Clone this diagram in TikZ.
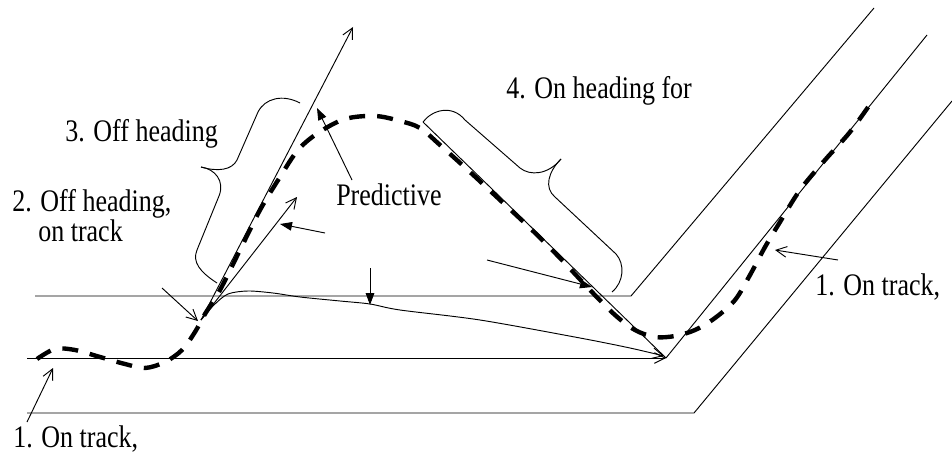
\documentclass[tikz,border=0pt]{standalone}
\usepackage{fontspec}
\setmainfont{Liberation Serif}
\newfontfamily\lblfont{Liberation Serif}[FakeStretch=0.83]
\usetikzlibrary{arrows.meta}
\begin{document}
\begin{tikzpicture}[x=0.75pt,y=0.75pt,
  trackline/.style={line width=0.7pt},
  lbl/.style={inner sep=0pt,anchor=base west,font=\lblfont\fontsize{23.5pt}{20.25pt}\selectfont},
  openarrow/.style={line width=0.7pt,-{Straight Barb[length=8pt,width=8pt,line width=0.7pt]}},
  fillarrow/.style={line width=0.7pt,-{Triangle[length=9pt,width=6.5pt]}},
  dashpath/.style={line width=3.3pt,dash pattern=on 12pt off 9pt},
  bracepath/.style={line width=0.7pt}]
\useasboundingbox (0,0) rectangle (952,-456);
% track lines
\coordinate (uL) at (35,-296); \coordinate (uV) at (631,-296); \coordinate (uE) at (874,-8);
\coordinate (mL) at (27,-358); \coordinate (mV) at (666,-358); \coordinate (mE) at (927,-35);
\coordinate (bL) at (27,-413); \coordinate (bV) at (694,-413); \coordinate (bE) at (952,-101);
\draw[trackline] (uL) -- (uV) -- (uE);
\draw[openarrow] (mL) -- (mV);
\draw[trackline] (mV) -- (mE);
\draw[trackline] (bL) -- (bV) -- (bE);
% heading arrows
\coordinate (O) at (201,-320);
\coordinate (LT) at (353,-27);
\coordinate (ST) at (297,-197);
\coordinate (H4) at (423,-122);
\draw[openarrow] (O) -- (LT);
\draw[openarrow] (O) -- (ST);
\draw[trackline] (H4) -- (mV);
% thin predicted curve
\draw[openarrow] plot[smooth,tension=0.5] coordinates {(201,-320) (214,-305) (228,-294) (248,-291) (273,-293) (300,-297) (340,-301) (370,-304) (400,-310) (480,-320) (580,-338) (630,-348) (664,-356)};
% dashed actual path
\draw[dashpath] plot[smooth,tension=0.55] coordinates {(37,-359) (55,-349) (75,-350) (100,-357) (125,-364) (145,-368) (165,-362) (182,-350) (195,-332) (205,-314) (220,-290) (240,-250) (260,-210) (280,-177) (298,-150) (318,-133) (345,-119) (375,-116) (400,-121) (420,-128) (440,-145) (470,-172) (500,-200) (530,-228) (560,-258) (590,-290) (615,-315) (635,-330) (655,-337) (675,-336) (695,-330) (715,-318) (735,-300) (750,-275) (765,-247) (780,-222) (800,-190) (825,-160) (850,-132) (873,-100)};
% brace 3
\draw[bracepath] (217,-283) .. controls (200,-272) and (192,-262) .. (197,-250) -- (219,-196) .. controls (225,-181) and (215,-169) .. (201,-167);
\draw[bracepath] (201,-167) .. controls (218,-172) and (232,-170) .. (237,-160) -- (258,-112) .. controls (265,-98) and (283,-94) .. (300,-103);
% brace 4
\draw[bracepath] (423,-122) .. controls (432,-110) and (452,-104) .. (465,-120) -- (520,-168) .. controls (530,-176) and (548,-175) .. (561,-159);
\draw[bracepath] (561,-159) .. controls (548,-172) and (544,-188) .. (555,-197) -- (616,-254) .. controls (625,-264) and (624,-282) .. (612,-292);
% pointer arrows
\coordinate (pA) at (352,-180); \coordinate (pB) at (317,-108);
\coordinate (sA) at (325,-233); \coordinate (sB) at (280,-224);
\coordinate (dA) at (370,-268); \coordinate (dB) at (370,-305);
\coordinate (hA) at (487,-260); \coordinate (hB) at (592,-287);
\coordinate (tA) at (162,-288); \coordinate (tB) at (198,-321);
\coordinate (oA) at (27,-422); \coordinate (oB) at (53,-368);
\coordinate (rA) at (838,-260); \coordinate (rB) at (775,-250);
\draw[fillarrow] (pA) -- (pB);
\draw[fillarrow] (sA) -- (sB);
\draw[fillarrow] (dA) -- (dB);
\draw[fillarrow] (hA) -- (hB);
\draw[openarrow] (tA) -- (tB);
\draw[openarrow] (oA) -- (oB);
\draw[openarrow] (rA) -- (rB);
% labels
\node[lbl] (l1a) at (13,-447) {1. On track,};
\node[lbl] (l1b) at (815,-295) {1. On track,};
\node[lbl,align=left] (l2) at (12,-241) {2. Off heading,\\\hspace*{0.83em}on track};
\node[lbl] (l3) at (65,-142) {3. Off heading};
\node[lbl] (l4) at (506,-99) {4. On heading for};
\node[lbl] (lp) at (336,-205) {Predictive};
\end{tikzpicture}
\end{document}
